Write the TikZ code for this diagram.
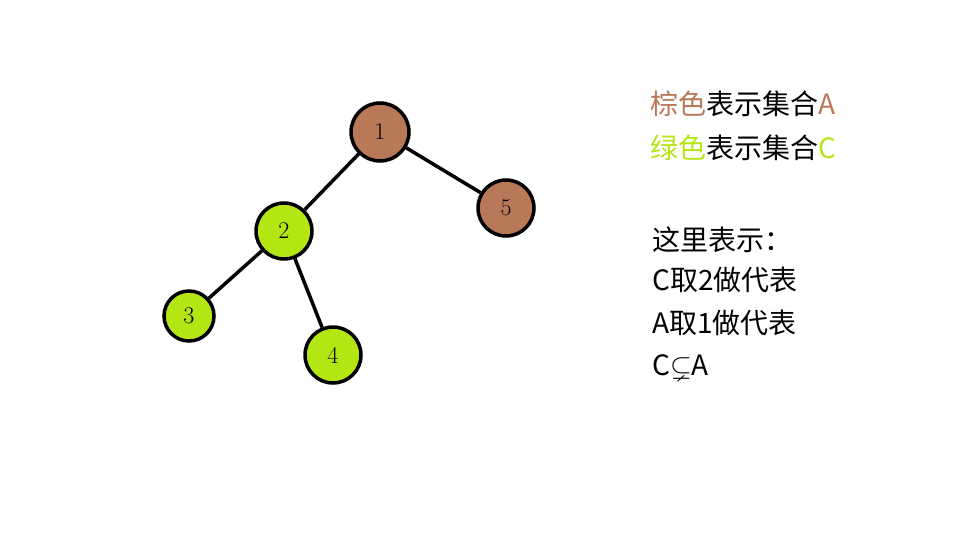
\documentclass[tikz,border=0pt]{standalone}
\usepackage{amssymb}
\usepackage{fontspec}
\newfontfamily\cjk{Noto Sans CJK SC}
\begin{document}
\begin{tikzpicture}[x=1pt,y=-1pt]
\definecolor{brn}{RGB}{185,120,88}
\definecolor{grn}{RGB}{180,230,20}
\tikzset{vtx/.style={circle,draw=black,line width=3.5pt,inner sep=0pt,font=\fontsize{24}{24}\selectfont},
 edge/.style={line width=3.5pt}, txt/.style={anchor=west,inner sep=0pt,font=\cjk\fontsize{28}{30}\selectfont}}
\useasboundingbox (0,0) rectangle (960,540);
\node[vtx,fill=brn,minimum size=58pt] (n1) at (380,132) {1};
\node[vtx,fill=brn,minimum size=56pt] (n5) at (506,208) {5};
\node[vtx,fill=grn,minimum size=56pt] (n2) at (284,231) {2};
\node[vtx,fill=grn,minimum size=50pt] (n3) at (189,316) {3};
\node[vtx,fill=grn,minimum size=56pt] (n4) at (333,355) {4};
\draw[edge] (n1) -- (n2);
\draw[edge] (n1) -- (n5);
\draw[edge] (n2) -- (n3);
\draw[edge] (n2) -- (n4);
\node[txt] (t1) at (650,104) {\textcolor{brn}{棕色}表示集合\textcolor{brn}{A}};
\node[txt] (t2) at (650,148) {\textcolor{grn}{绿色}表示集合\textcolor{grn}{C}};
\node[txt] (t3) at (652,240) {这里表示：};
\node[txt] (t4) at (652,280) {C取2做代表};
\node[txt] (t5) at (652,323) {A取1做代表};
\node[txt] (t6) at (652,367) {C$\subsetneq$A};
\end{tikzpicture}
\end{document}
